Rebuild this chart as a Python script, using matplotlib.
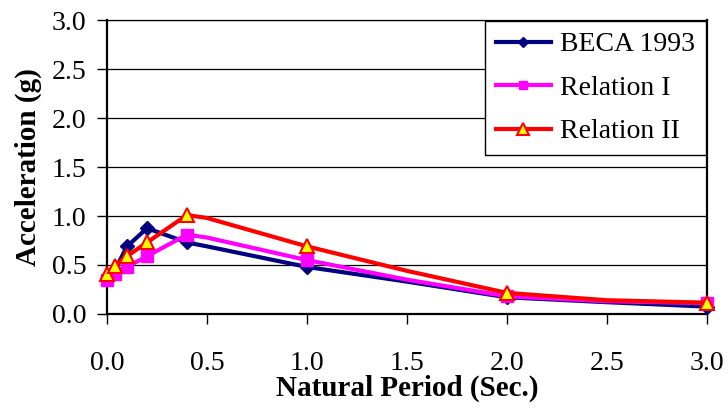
import numpy as np
import matplotlib.pyplot as plt

plt.rcParams['font.family'] = 'Liberation Serif'

# Datos
periodo = [0.0, 0.04, 0.1, 0.2, 0.4, 0.5, 1.0, 1.5, 2.0, 2.5, 3.0]
beca = [0.36, 0.45, 0.69, 0.875, 0.73, 0.69, 0.48, 0.33, 0.17, 0.12, 0.075]
rel1 = [0.35, 0.405, 0.48, 0.59, 0.81, 0.78, 0.55, 0.35, 0.18, 0.13, 0.11]
rel2 = [0.41, 0.49, 0.59, 0.73, 1.01, 0.98, 0.69, 0.44, 0.215, 0.14, 0.115]
marcados = [0, 1, 2, 3, 4, 6, 8, 10]

xticks = [0.0, 0.5, 1.0, 1.5, 2.0, 2.5, 3.0]
yticks = [0.0, 0.5, 1.0, 1.5, 2.0, 2.5, 3.0]

fig = plt.figure(figsize=(7.28, 4.12), dpi=100)
ax = fig.add_axes([0.147, 0.238, 0.824, 0.713])

# Curvas
ax.plot(periodo, beca, color='#000080', lw=3, marker='D', ms=7,
        markevery=marcados, label='BECA 1993', zorder=3, clip_on=False)
ax.plot(periodo, rel1, color='#FF00FF', lw=3, marker='s', ms=8,
        markevery=marcados, label='Relation I', zorder=4, clip_on=False)
ax.plot(periodo, rel2, color='#FF0000', lw=3, marker='^', ms=10,
        markerfacecolor='#FFFF00', markeredgecolor='#FF0000', mew=1.5,
        markevery=marcados, label='Relation II', zorder=5, clip_on=False)

ax.set_xlim(0, 3)
ax.set_ylim(0, 3)
ax.set_xticks(xticks)
ax.set_yticks(yticks)
ax.set_xticklabels(['%.1f' % v for v in xticks])
ax.set_yticklabels(['%.1f' % v for v in yticks])
ax.yaxis.grid(True, color='black', lw=0.9)
ax.set_axisbelow(True)

for lado in ['left', 'bottom', 'right']:
    ax.spines[lado].set_linewidth(1.6)
ax.spines['top'].set_linewidth(0.9)

ax.tick_params(axis='y', direction='out', length=7, width=1, pad=8, labelsize=20)
ax.tick_params(axis='x', direction='out', length=7, width=1, pad=20, labelsize=20)

ax.set_xlabel('Natural Period (Sec.)', fontsize=21, fontweight='bold', labelpad=-1)
ax.set_ylabel('Acceleration (g)', fontsize=21, fontweight='bold', labelpad=7)

leg = ax.legend(loc='upper right', bbox_to_anchor=(0.998, 0.998), borderaxespad=0,
                fontsize=20, handlelength=2.0, handletextpad=0.3, labelspacing=0.65,
                borderpad=0.4, fancybox=False, framealpha=1, markerscale=0.8)
leg.get_frame().set_edgecolor('black')
leg.get_frame().set_linewidth(1)
leg.set_zorder(10)

plt.savefig('out.png', dpi=100)
